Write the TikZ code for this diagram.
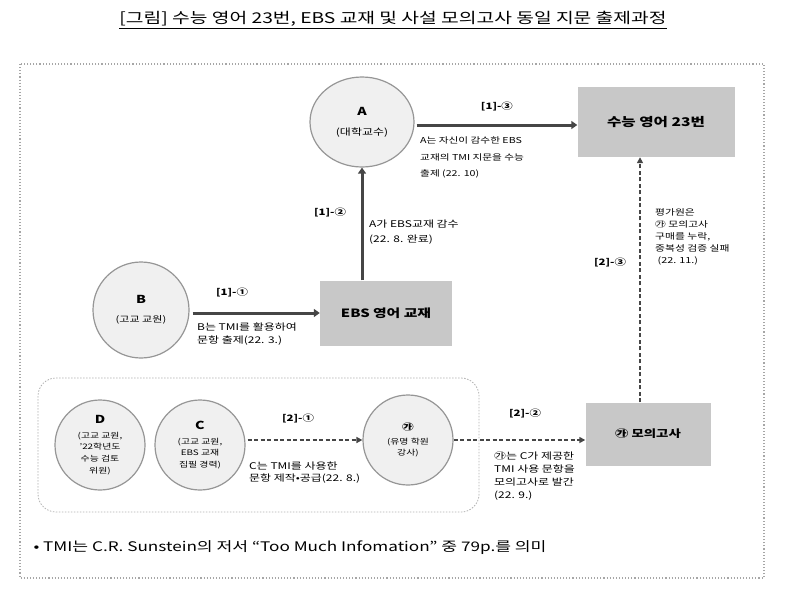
\documentclass[tikz,border=0pt]{standalone}
\usepackage{fontspec}
\setmainfont{Noto Sans CJK KR}[FakeStretch=1.3]
\usetikzlibrary{arrows.meta,shapes.geometric}
\definecolor{boxgray}{RGB}{200,200,200}
\definecolor{circfill}{RGB}{240,240,240}
\definecolor{circline}{RGB}{150,150,150}
\definecolor{arrowcol}{RGB}{70,70,70}
\newcommand{\fs}[2]{\fontsize{#1}{#2}\selectfont}
\begin{document}
\begin{tikzpicture}[x=1pt,y=-1pt,
  person/.style={circle,draw=circline,line width=1.2pt,fill=circfill,inner sep=0pt,minimum size=#1,align=center},
  person/.default=92pt,
  gbox/.style={rectangle,draw=none,fill=boxgray,inner sep=0pt,align=center,font=\bfseries},
  solidarrow/.style={draw=arrowcol,line width=3pt,-{Triangle[length=6pt,width=8pt]}},
  dasharrow/.style={draw=arrowcol,line width=1.6pt,dash pattern=on 4pt off 2.5pt,-{Triangle[length=6pt,width=6pt]}},
  lbl/.style={font=\fs{8.8}{10}\bfseries,text=black},
  note/.style={align=left,anchor=north west,inner sep=0pt,text=black}
]
\useasboundingbox (0,0) rectangle (800,595);
\fill[white] (0,0) rectangle (800,595);
% title
\node[font=\fs{14.8}{16},anchor=center,text=black] (title) at (393,20) {\underline{[그림] 수능 영어 23번, EBS 교재 및 사설 모의고사 동일 지문 출제과정}};
% outer frame
\draw[gray!70,line width=1.1pt,dotted] (20,64) rectangle (764,578);
% inner rounded dashed frame
\draw[gray!60,line width=0.8pt,dash pattern=on 1.5pt off 1.5pt,rounded corners=18pt] (38,378) rectangle (479,512);
% nodes
\node[ellipse,draw=circline,line width=1.2pt,fill=circfill,inner sep=0pt,minimum width=104pt,minimum height=90pt,align=center] (A) at (362,122) {{\fs{11}{13}\bfseries A}\\[8pt]{\fs{9.2}{11}(대학교수)}};
\node[gbox,minimum width=157pt,minimum height=70pt,font=\fs{12}{14}\bfseries] (S) at (656,122) {수능 영어 23번};
\node[gbox,minimum width=132pt,minimum height=65pt,font=\fs{11.4}{13}\bfseries] (E) at (386,313) {EBS 영어 교재};
\node[person=96pt] (B) at (141,310) {{\fs{11}{13}\bfseries B}\\[7pt]{\fs{8.5}{10}(고교 교원)}};
\node[person=90pt,font=\fs{7.6}{11.8}] (D) at (100,445) {{\fs{11}{13}\bfseries D}\\[3pt](고교 교원,\\'22학년도\\수능 검토\\위원)};
\node[person=90pt,font=\fs{7.6}{11.8}] (C) at (200,445) {{\fs{11}{13}\bfseries C}\\[3pt](고교 교원,\\EBS 교재\\집필 경력)};
\node[person=90pt,font=\fs{7.6}{11.8}] (G) at (408,440) {{\fs{9}{11}\bfseries ㉮}\\[2pt](유명 학원\\강사)};
\node[gbox,minimum width=125pt,minimum height=63pt,font=\fs{10.3}{12}\bfseries] (M) at (648,434) {㉮ 모의고사};
% arrows
\draw[solidarrow] (A.east) ++(2,3) coordinate (a1) -- (a1 -| S.west) coordinate (a2);
\path (a1) -- node[lbl,above=10pt] (l13) {[1]-③} (a2);
\node[note,font=\fs{8.2}{16.3}] (n13) at (420,137) {A는 자신이 감수한 EBS\\교재의 TMI 지문을 수능\\출제 (22. 10)};
\draw[solidarrow] (E.north -| A.south) coordinate (e1) -- (A.south);
\node[lbl] (l12) at (330,212) {[1]-②};
\node[note,font=\fs{9.2}{15}] (n12) at (369,220) {A가 EBS교재 감수\\(22. 8. 완료)};
\draw[solidarrow] (B.east) ++(3,3) coordinate (b1) -- (b1 -| E.west);
\node[lbl] (l11) at (232,292) {[1]-①};
\node[note,font=\fs{9.2}{12.3}] (n11) at (197,323) {B는 TMI를 활용하여\\문항 출제(22. 3.)};
\draw[dasharrow] (C.east) ++(2,-5) coordinate (c1) -- (c1 -| G.west);
\node[lbl] (l21) at (298,418) {[2]-①};
\node[note,font=\fs{9.2}{11.5}] (n21) at (249,462) {C는 TMI를 사용한\\문항 제작•공급(22. 8.)};
\draw[dasharrow] (G.east) -- (G.east -| M.west);
\node[lbl] (l22) at (525,413) {[2]-②};
\node[note,font=\fs{9.2}{13}] (n22) at (494,452) {㉮는 C가 제공한\\TMI 사용 문항을\\모의고사로 발간\\(22. 9.)};
\draw[dasharrow] (M.north -| 640,0) coordinate (m1) -- (m1 |- S.south);
\node[lbl] (l23) at (610,262) {[2]-③};
\node[note,font=\fs{8.3}{12}] (n23) at (655,208) {평가원은\\㉮ 모의고사\\구매를 누락,\\중복성 검증 실패\\\ (22. 11.)};
% footnote
\node[anchor=west,font=\fs{13.2}{15},text=black] (fn) at (30,548) {• TMI는 C.R. Sunstein의 저서 “Too Much Infomation” 중 79p.를 의미};
\end{tikzpicture}
\end{document}
